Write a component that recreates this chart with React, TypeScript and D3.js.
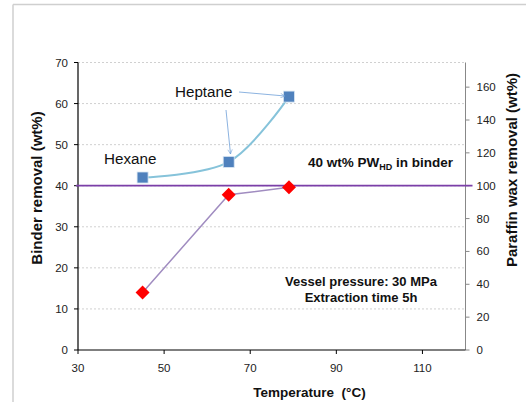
import React from "react";
import * as d3 from "d3";

const temps = [45, 65, 79];
const binderRemoval = [42, 45.8, 61.7];
const waxRemoval = [35, 94.5, 99];
const xTicks = [30, 50, 70, 90, 110];
const yLeftTicks = [0, 10, 20, 30, 40, 50, 60, 70];
const yRightTicks = [0, 20, 40, 60, 80, 100, 120, 140, 160];
const binderLevel = 40;

const W = 526, H = 402;
const L = 78, R = 465.5, T = 62.5, B = 350;
const font = "'Liberation Sans', Arial, sans-serif";

export default function App() {
  const x = d3.scaleLinear().domain([30, 120]).range([L, R]);
  const yL = d3.scaleLinear().domain([0, 70]).range([B, T]);
  const yR = d3.scaleLinear().domain([0, 175]).range([B, T]);

  const blueLine = d3.line<number>()
    .x((_, i) => x(temps[i]))
    .y((d) => yL(d))
    .curve(d3.curveCatmullRom.alpha(0.5))(binderRemoval) || "";
  const redLine = d3.line<number>()
    .x((_, i) => x(temps[i]))
    .y((d) => yR(d))(waxRemoval) || "";

  return (
    <svg width={W} height={H} style={{ position: "absolute", left: 0, top: 0 }} fontFamily={font}>
      <defs>
        <marker id="arr" viewBox="0 0 10 10" refX="9" refY="5" markerWidth="7" markerHeight="7" orient="auto">
          <path d="M1,1 L9,5 L1,9" fill="none" stroke="#6f9fd8" strokeWidth="1" />
        </marker>
      </defs>
      <rect x={0} y={0} width={W} height={H} fill="#fff" />
      {/* frame */}
      <line x1={13} y1={4.5} x2={W} y2={4.5} stroke="#cfcfcf" strokeWidth={1.5} />
      <line x1={13} y1={4.5} x2={13} y2={H} stroke="#cfcfcf" strokeWidth={1.5} />

      {/* grid */}
      {yLeftTicks.filter((t) => t > 0).map((t) => (
        <line key={t} x1={L} x2={R} y1={yL(t)} y2={yL(t)} stroke="#c4c4c4" strokeWidth={0.8} strokeDasharray="2,2" />
      ))}

      {/* right axis */}
      <line x1={R} x2={R} y1={T} y2={B} stroke="#888" strokeWidth={1} />
      {yRightTicks.map((t) => (
        <g key={t}>
          <line x1={R} x2={R + 4} y1={yR(t)} y2={yR(t)} stroke="#888" />
          <text x={R + 11} y={yR(t) + 4} fontSize={11.5} fill="#222">{t}</text>
        </g>
      ))}

      {/* left axis */}
      <line x1={L} x2={L} y1={T} y2={B} stroke="#000" strokeWidth={1.2} />
      {yLeftTicks.map((t) => (
        <g key={t}>
          <line x1={L - 4} x2={L} y1={yL(t)} y2={yL(t)} stroke="#000" />
          <text x={L - 10} y={yL(t) + 4} fontSize={11.5} textAnchor="end" fill="#222">{t}</text>
        </g>
      ))}

      {/* bottom axis */}
      <line x1={L} x2={R} y1={B} y2={B} stroke="#000" strokeWidth={1.2} />
      {xTicks.map((t) => (
        <g key={t}>
          <line x1={x(t)} x2={x(t)} y1={B} y2={B + 4} stroke="#000" />
          <text x={x(t)} y={B + 22} fontSize={11.5} textAnchor="middle" fill="#222">{t}</text>
        </g>
      ))}

      {/* series */}
      <path d={blueLine} fill="none" stroke="#86c3da" strokeWidth={2} />
      <path d={redLine} fill="none" stroke="#a08cc0" strokeWidth={1.5} />
      <line x1={L - 2} x2={R + 7} y1={yL(binderLevel)} y2={yL(binderLevel)} stroke="#7b3fa8" strokeWidth={1.8} />
      {temps.map((t, i) => (
        <rect key={"s" + i} x={x(t) - 5.5} y={yL(binderRemoval[i]) - 5.5} width={11} height={11} fill="#4f81bd" stroke="#d8e6f3" strokeWidth={0.8} />
      ))}
      {temps.map((t, i) => (
        <path key={"d" + i} d={`M${x(t)},${yR(waxRemoval[i]) - 7}L${x(t) + 7},${yR(waxRemoval[i])}L${x(t)},${yR(waxRemoval[i]) + 7}L${x(t) - 7},${yR(waxRemoval[i])}Z`} fill="#ff0000" />
      ))}

      {/* annotations */}
      <text x={104} y={164} fontSize={15.2} fill="#111">Hexane</text>
      <text x={175} y={96.5} fontSize={15.2} fill="#111">Heptane</text>
      <line x1={226} y1={110} x2={230.5} y2={154} stroke="#6f9fd8" strokeWidth={0.8} markerEnd="url(#arr)" />
      <line x1={239} y1={92} x2={285} y2={96} stroke="#6f9fd8" strokeWidth={0.8} markerEnd="url(#arr)" />

      <text x={308} y={166.5} fontSize={13.5} fontWeight="bold" fill="#111">
        40 wt% PW<tspan fontSize={9} dy={3}>HD</tspan><tspan dy={-3}> in binder</tspan>
      </text>
      <text x={361} y={286} fontSize={13} fontWeight="bold" textAnchor="middle" fill="#111">Vessel pressure: 30 MPa</text>
      <text x={361} y={302} fontSize={13} fontWeight="bold" textAnchor="middle" fill="#111">Extraction time 5h</text>

      {/* axis titles */}
      <text transform={`translate(42,188) rotate(-90)`} fontSize={15} fontWeight="bold" textAnchor="middle" fill="#111">Binder removal (wt%)</text>
      <text transform={`translate(517,170) rotate(-90)`} fontSize={15} fontWeight="bold" textAnchor="middle" fill="#111">Paraffin wax removal (wt%)</text>
      <text x={309.5} y={397} fontSize={13.5} fontWeight="bold" textAnchor="middle" fill="#111" style={{ whiteSpace: "pre" }}>Temperature  (°C)</text>
    </svg>
  );
}
